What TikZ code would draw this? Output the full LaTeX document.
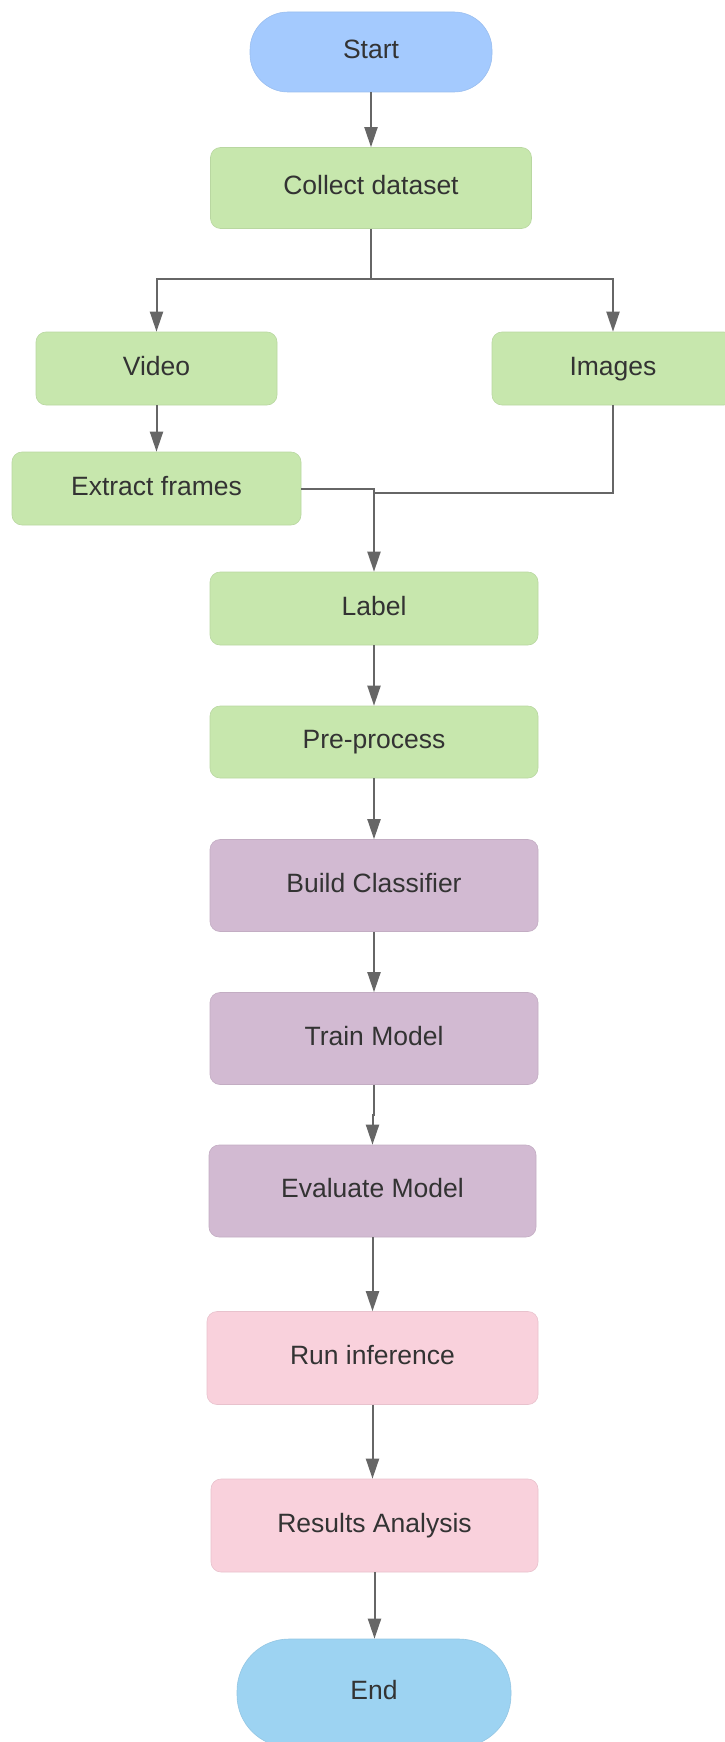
\documentclass[tikz,border=0pt]{standalone}
\usepackage{fontspec}
\setmainfont{Liberation Sans}
\usetikzlibrary{arrows.meta}
\definecolor{startblue}{HTML}{A4CAFE}
\definecolor{endblue}{HTML}{9DD3F2}
\definecolor{stepgreen}{HTML}{C7E7AD}
\definecolor{steppurple}{HTML}{D2BAD2}
\definecolor{steppink}{HTML}{F9D1DC}
\definecolor{inktext}{HTML}{333333}
\definecolor{wire}{HTML}{666666}
\tikzset{
  label text/.style={text=inktext, font=\fontsize{26.5}{30}\selectfont,
    text height=19pt, text depth=6pt},
  box/.style={rectangle, rounded corners=10pt, inner sep=0pt, fill=#1,
    draw=#1!93!black, line width=0.6pt, label text},
  terminal/.style={rectangle, rounded corners=38pt, inner sep=0pt, fill=#1,
    draw=#1!94!black, line width=0.6pt, label text},
  link/.style={draw=wire, line width=2pt},
  arrowlink/.style={link, -{Triangle[width=13pt,length=20pt]}},
}
\begin{document}
\begin{tikzpicture}[x=1pt,y=-1pt]
\useasboundingbox (0,0) rectangle (725,1742);
\clip (0,0) rectangle (725,1742);

% process steps
\node[terminal=startblue, minimum width=242pt, minimum height=80pt] (start) at (371,52) {Start};
\node[box=stepgreen, minimum width=321pt, minimum height=81pt] (collect) at (371,188) {Collect dataset};
\node[box=stepgreen, minimum width=241pt, minimum height=73pt] (video) at (156.5,368.5) {Video};
\node[box=stepgreen, minimum width=242pt, minimum height=73pt] (images) at (613,368.5) {Images};
\node[box=stepgreen, minimum width=289pt, minimum height=73pt] (extract) at (156.5,488.5) {Extract frames};
\node[box=stepgreen, minimum width=328pt, minimum height=73pt] (label) at (374,608.5) {Label};
\node[box=stepgreen, minimum width=328pt, minimum height=72pt] (pre) at (374,742) {Pre-process};
\node[box=steppurple, minimum width=328pt, minimum height=92pt] (build) at (374,885.5) {Build Classifier};
\node[box=steppurple, minimum width=328pt, minimum height=92pt] (train) at (374,1038.5) {Train Model};
\node[box=steppurple, minimum width=327pt, minimum height=92pt] (eval) at (372.5,1191) {Evaluate Model};
\node[box=steppink, minimum width=331pt, minimum height=93pt] (run) at (372.5,1358) {Run inference};
\node[box=steppink, minimum width=327pt, minimum height=93pt] (results) at (374.5,1525.5) {Results Analysis};
\node[terminal=endblue, rounded corners=52pt, minimum width=274pt, minimum height=108pt] (end) at (374,1693) {End};

% junction points
\coordinate (split) at (371,279);
\coordinate (merge) at (374,493);

% connectors
\draw[arrowlink] (start) -- (collect);
\draw[link] (collect.south) -- (split);
\draw[arrowlink] (split) -| (video.north);
\draw[arrowlink] (split) -| (images.north);
\draw[arrowlink] (video) -- (extract);
\draw[link] (images.south) |- (merge);
\draw[arrowlink] (extract.east) -| (label.north);
\draw[arrowlink] (label) -- (pre);
\draw[arrowlink] (pre) -- (build);
\draw[arrowlink] (build) -- (train);
\draw[arrowlink] (train.south) -- ++(0,30) -| (eval.north);
\draw[arrowlink] (eval) -- (run);
\draw[arrowlink] (run.south) -- (run.south |- results.north);
\draw[arrowlink] (results.south) -- (results.south |- end.north);
\end{tikzpicture}
\end{document}
